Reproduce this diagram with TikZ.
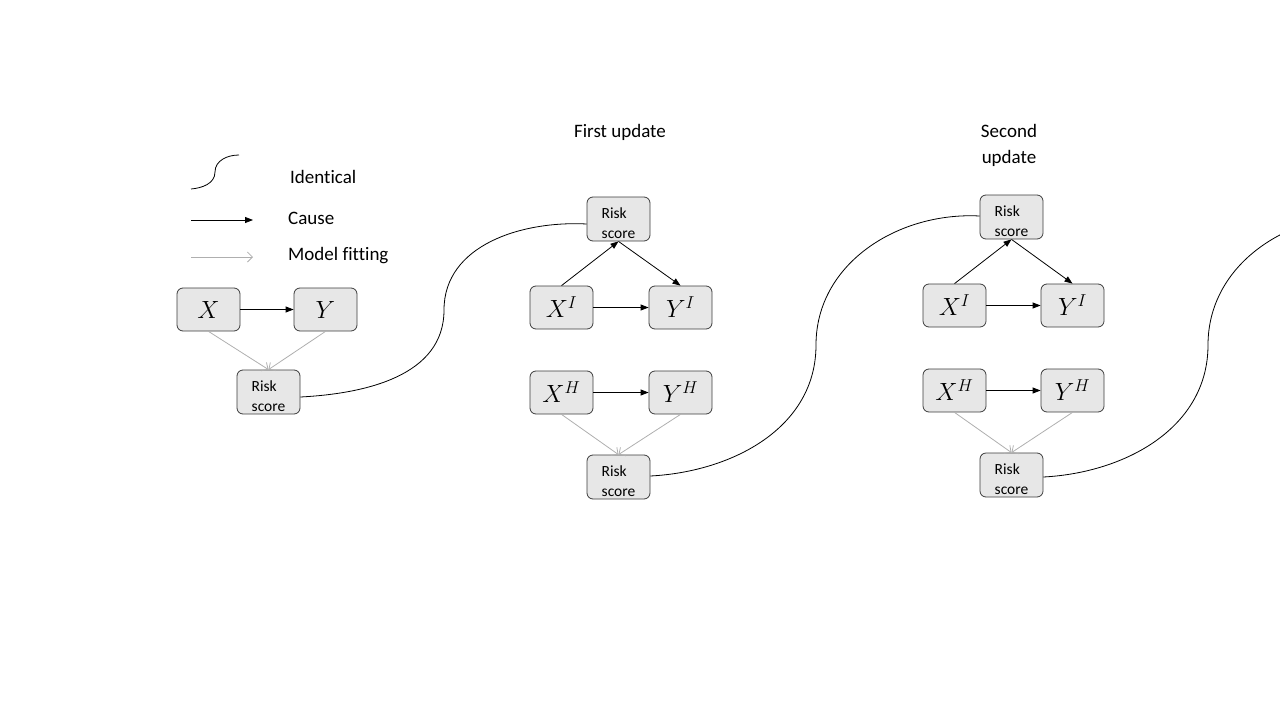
\documentclass[tikz,border=0pt]{standalone}
\usepackage{fontspec}
\setmainfont{Carlito}[RawFeature={-liga;-dlig;-clig}]
\usetikzlibrary{arrows.meta,calc}
\definecolor{boxfill}{RGB}{231,231,231}
\definecolor{boxline}{RGB}{60,60,60}
\definecolor{fitgray}{RGB}{175,175,175}
\newcommand{\riskscoretext}{\raisebox{-5pt}[\height][\depth]{\begin{tabular}{@{}l@{}}Risk\\score\end{tabular}}}
\begin{document}
\begin{tikzpicture}[x=1pt,y=-1pt,
  rbox/.style={draw=boxline, fill=boxfill, rounded corners=6pt, minimum width=63pt, minimum height=43pt, inner sep=0pt, line width=0.8pt, font=\fontsize{25}{30}\selectfont},
  riskbox/.style={rbox, minimum height=44pt, font=\fontsize{15.5}{20}\selectfont},
  lbl/.style={anchor=west, inner sep=0pt, font=\fontsize{19}{23}\selectfont},
  ttl/.style={align=center, inner sep=0pt, font=\fontsize{19}{26}\selectfont},
  cause/.style={draw=black, line width=0.8pt, -{Triangle[length=8pt,width=6pt]}},
  modelfit/.style={draw=fitgray, line width=0.8pt, -{Straight Barb[length=5pt,width=10pt]}},
  identical/.style={draw=black, line width=0.8pt}]
\useasboundingbox (0,0) rectangle (1280,720);

% legend
\coordinate (la) at (191,189);
\coordinate (lm) at (215,172);
\coordinate (lb) at (239,155);
\draw[identical] (la) to[out=5,in=-90] (lm) to[out=90,in=180] (lb);
\node[lbl] (tid) at (290,177) {Identical};
\coordinate (ca) at (191,220);
\coordinate (cb) at (253,220);
\draw[cause] (ca) -- (cb);
\node[lbl] (tca) at (288,218) {Cause};
\coordinate (fa) at (191,257);
\coordinate (fb) at (253,257);
\draw[modelfit] (fa) -- (fb);
\node[lbl] (tfi) at (288,256) {Model fitting};

% original
\node[rbox] (x0) at (208.5,309.5) {$X$};
\node[rbox] (y0) at (325.5,309.5) {$Y$};
\node[riskbox] (rs0) at (268.5,392) {\riskscoretext};
\draw[cause] (x0) -- (y0);
\draw[modelfit] (x0.south) -- (rs0.north);
\draw[modelfit] (y0.south) -- (rs0.north);

% first update
\node[ttl] (t1) at (620,132) {First update};
\node[riskbox] (rs1t) at (618.5,219) {\riskscoretext};
\node[rbox] (xi1) at (561.5,307.5) {$X^I$};
\node[rbox] (yi1) at (680.5,307.5) {$Y^I$};
\node[rbox] (xh1) at (561.5,392.5) {$X^H$};
\node[rbox] (yh1) at (680.5,392.5) {$Y^H$};
\node[riskbox] (rs1b) at (618.5,477) {\riskscoretext};
\draw[cause] (xi1.north) -- (rs1t.south);
\draw[cause] (rs1t.south) -- (yi1.north);
\draw[cause] (xi1) -- (yi1);
\draw[cause] (xh1) -- (yh1);
\draw[modelfit] (xh1.south) -- (rs1b.north);
\draw[modelfit] (yh1.south) -- (rs1b.north);

% second update
\node[ttl] (t2) at (1009,145) {Second\\update};
\node[riskbox] (rs2t) at (1011.5,217) {\riskscoretext};
\node[rbox] (xi2) at (954.5,305.5) {$X^I$};
\node[rbox] (yi2) at (1072.5,305.5) {$Y^I$};
\node[rbox] (xh2) at (954.5,390.5) {$X^H$};
\node[rbox] (yh2) at (1072.5,390.5) {$Y^H$};
\node[riskbox] (rs2b) at (1011.5,475) {\riskscoretext};
\draw[cause] (xi2.north) -- (rs2t.south);
\draw[cause] (rs2t.south) -- (yi2.north);
\draw[cause] (xi2) -- (yi2);
\draw[cause] (xh2) -- (yh2);
\draw[modelfit] (xh2.south) -- (rs2b.north);
\draw[modelfit] (yh2.south) -- (rs2b.north);

% identical curves
\coordinate (c1) at (444,310);
\draw[identical] ($(rs0.east)+(0,5)$) to[out=3,in=-90] (c1) to[out=90,in=177] ($(rs1t.west)+(0,5)$);
\coordinate (c2) at (816,345);
\draw[identical] ($(rs1b.east)+(0,-1)$) to[out=3,in=-90] (c2) to[out=90,in=177] ($(rs2t.west)+(0,-1)$);
\coordinate (c3) at (1208,345);
\coordinate (c3e) at (1373,215);
\begin{scope}
\clip (0,0) rectangle (1280,720);
\draw[identical] ($(rs2b.east)+(0,2)$) to[out=3,in=-90] (c3) to[out=90,in=177] (c3e);
\end{scope}
\end{tikzpicture}
\end{document}
